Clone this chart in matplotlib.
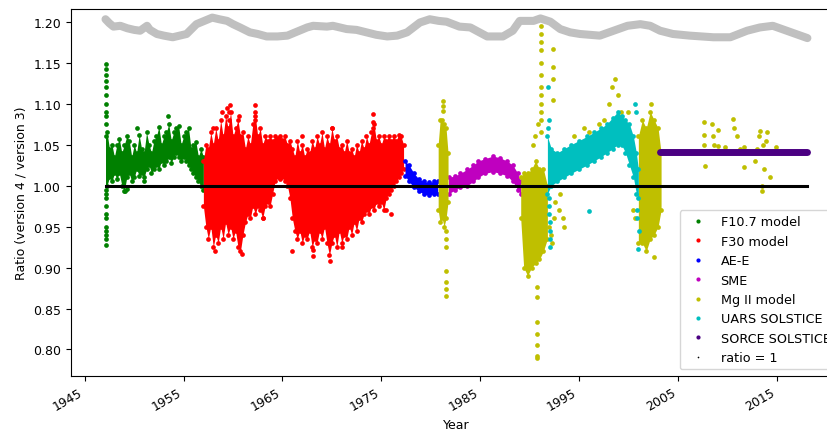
import matplotlib
matplotlib.use("Agg")
import matplotlib.pyplot as plt
from matplotlib.lines import Line2D

# ---------------- data ----------------
# F10.7 model: envelope of the dense cloud
f107_years = [1947.10, 1947.25, 1947.50, 1947.75, 1948.00, 1948.25, 1948.50, 1948.75,
              1949.00, 1949.25, 1949.50, 1949.75, 1950.00, 1950.25, 1950.50, 1950.75,
              1951.00, 1951.25, 1951.50, 1951.75, 1952.00, 1952.25, 1952.50, 1952.75,
              1953.00, 1953.25, 1953.50, 1953.75, 1954.00, 1954.25, 1954.50, 1954.75,
              1955.00, 1955.25, 1955.50, 1955.75, 1956.00, 1956.25, 1956.50, 1956.75,
              1957.00]
f107_high = [1.06, 1.065, 1.045, 1.05, 1.035, 1.05, 1.057, 1.04, 1.05, 1.06, 1.055, 1.035,
             1.05, 1.04, 1.062, 1.045, 1.04, 1.065, 1.05, 1.04, 1.055, 1.06, 1.072, 1.05,
             1.06, 1.065, 1.075, 1.055, 1.065, 1.07, 1.073, 1.05, 1.06, 1.065, 1.07,
             1.045, 1.05, 1.053, 1.035, 1.045, 1.035]
f107_low = [0.995, 1.0, 1.01, 1.005, 1.015, 1.008, 1.015, 1.0, 0.993, 1.01, 1.015, 1.005,
            1.01, 1.02, 1.012, 1.015, 1.01, 1.02, 1.025, 1.015, 1.02, 1.025, 1.02, 1.03,
            1.025, 1.03, 1.035, 1.028, 1.035, 1.04, 1.035, 1.03, 1.035, 1.03, 1.025,
            1.02, 1.015, 1.01, 1.005, 1.0, 0.995]
f107_pts_x = [1947.1] * 20 + [1953.4, 1949.1, 1949.3, 1951.0, 1950.3]
f107_pts_y = [1.148, 1.142, 1.135, 1.128, 1.12, 1.11, 1.10, 1.09, 1.085, 1.075,
              0.99, 0.985, 0.975, 0.965, 0.96, 0.95, 0.945, 0.94, 0.935, 0.928,
              1.085, 0.993, 0.996, 1.005, 1.07]

# F30 model
f30_years = [1957.00, 1957.25, 1957.50, 1957.75, 1958.00, 1958.25, 1958.50, 1958.75,
             1959.00, 1959.25, 1959.50, 1959.75, 1960.00, 1960.25, 1960.50, 1960.75,
             1961.00, 1961.25, 1961.50, 1961.75, 1962.00, 1962.25, 1962.50, 1962.75,
             1963.00, 1963.25, 1963.50, 1963.75, 1964.00, 1964.25, 1964.50, 1964.75,
             1965.00, 1965.25, 1965.50, 1965.75, 1966.00, 1966.25, 1966.50, 1966.75,
             1967.00, 1967.25, 1967.50, 1967.75, 1968.00, 1968.25, 1968.50, 1968.75,
             1969.00, 1969.25, 1969.50, 1969.75, 1970.00, 1970.25, 1970.50, 1970.75,
             1971.00, 1971.25, 1971.50, 1971.75, 1972.00, 1972.25, 1972.50, 1972.75,
             1973.00, 1973.25, 1973.50, 1973.75, 1974.00, 1974.25, 1974.50, 1974.75,
             1975.00, 1975.25, 1975.50, 1975.75, 1976.00, 1976.25, 1976.50, 1976.75,
             1977.00, 1977.25]
f30_high = [1.03, 1.05, 1.045, 1.065, 1.05, 1.07, 1.055, 1.08, 1.06, 1.085, 1.07, 1.09,
            1.06, 1.07, 1.08, 1.06, 1.065, 1.045, 1.06, 1.05, 1.075, 1.085, 1.06, 1.07,
            1.05, 1.06, 1.055, 1.06, 1.055, 1.06, 1.058, 1.06, 1.056, 1.06, 1.05, 1.055,
            1.045, 1.035, 1.055, 1.04, 1.05, 1.035, 1.045, 1.04, 1.055, 1.045, 1.06, 1.05,
            1.065, 1.045, 1.06, 1.05, 1.07, 1.055, 1.06, 1.045, 1.05, 1.04, 1.055, 1.04,
            1.045, 1.035, 1.05, 1.04, 1.055, 1.045, 1.06, 1.05, 1.065, 1.075, 1.055, 1.06,
            1.05, 1.06, 1.055, 1.06, 1.055, 1.06, 1.055, 1.062, 1.06, 1.05]
f30_low = [0.975, 0.95, 0.935, 0.95, 0.925, 0.94, 0.93, 0.95, 0.935, 0.955, 0.94, 0.95,
           0.935, 0.945, 0.925, 0.92, 0.94, 0.955, 0.965, 0.96, 0.975, 0.965, 0.975,
           0.97, 0.96, 0.975, 0.98, 0.975, 0.99, 1.005, 1.01, 1.008, 1.01, 1.005, 1.0,
           0.985, 0.96, 0.945, 0.935, 0.945, 0.93, 0.94, 0.935, 0.945, 0.925, 0.935,
           0.93, 0.945, 0.935, 0.95, 0.93, 0.915, 0.93, 0.94, 0.925, 0.945, 0.93, 0.94,
           0.935, 0.95, 0.94, 0.955, 0.945, 0.96, 0.955, 0.965, 0.97, 0.965, 0.975, 0.97,
           0.98, 0.975, 0.98, 0.97, 0.985, 0.99, 0.995, 1.0, 1.005, 1.01, 1.015, 1.02]
f30_pts_x = [1958.9, 1959.4, 1959.7, 1960.6, 1962.2, 1960.9, 1958.2, 1969.8, 1968.1,
             1974.2, 1976.0, 1975.5, 1966.0, 1967.0, 1970.0, 1971.0, 1958.0, 1963.0,
             1959.6, 1959.6, 1962.2, 1962.2, 1968.1, 1974.2, 1974.2]
f30_pts_y = [1.09, 1.095, 1.098, 1.085, 1.098, 0.917, 0.92, 0.908, 0.914,
             1.087, 0.965, 0.97, 0.92, 1.06, 1.07, 0.925, 1.07, 0.96,
             1.09, 1.08, 1.09, 1.08, 0.922, 1.078, 1.07]

# AE-E
aee_years = [1977.4, 1977.8, 1978.3, 1978.8, 1979.3, 1979.8, 1980.3, 1980.7]
aee_low = [1.012, 1.005, 0.998, 0.993, 0.99, 0.988, 0.99, 0.99]
aee_high = [1.03, 1.025, 1.015, 1.008, 1.005, 1.004, 1.005, 1.005]

# SME
sme_years = [1981.8, 1982.5, 1983.0, 1983.7, 1984.3, 1984.8, 1985.5, 1986.3, 1987.0,
             1987.7, 1988.3, 1988.8, 1989.1]
sme_low = [0.99, 0.995, 0.998, 1.0, 1.005, 1.01, 1.015, 1.017, 1.015, 1.012, 1.005,
           0.995, 0.99]
sme_high = [1.01, 1.012, 1.015, 1.02, 1.025, 1.03, 1.033, 1.036, 1.034, 1.03, 1.025,
            1.015, 1.005]

# Mg II model: dense blocks
mg1_years = [1980.75, 1980.95, 1981.15, 1981.35, 1981.55, 1981.75]
mg1_low = [0.97, 0.955, 0.96, 0.95, 0.96, 0.98]
mg1_high = [1.05, 1.08, 1.08, 1.075, 1.07, 1.04]
mg2_years = [1989.1, 1989.4, 1989.8, 1990.2, 1990.6, 1991.0, 1991.4, 1991.8]
mg2_low = [0.96, 0.9, 0.89, 0.9, 0.905, 0.91, 0.92, 0.935]
mg2_high = [1.01, 1.015, 1.015, 1.02, 1.03, 1.02, 1.02, 1.0]
mg3_years = [2001.0, 2001.4, 2001.8, 2002.2, 2002.6, 2003.0, 2003.3]
mg3_low = [0.93, 0.93, 0.92, 0.935, 0.94, 0.95, 0.97]
mg3_high = [1.06, 1.08, 1.07, 1.09, 1.08, 1.07, 1.04]
mg_pts_x = ([1981.2] * 3 + [1981.5] * 3 + [1981.55] * 4
            + [1991.2] * 12 + [1990.75] * 7 + [1992.4] * 4
            + [1990.3, 1990.5, 1990.8, 1992.0, 1992.2, 1992.3, 1992.5, 1992.6, 1993.0,
               1993.1, 1993.4, 1993.5, 1994.5, 1995.5, 1996.0, 1996.5, 1997.0, 1997.5,
               1998.0, 1998.3, 1998.6, 1998.9, 1999.2, 1999.5, 2000.0, 2000.3,
               2000.5, 2000.7, 2002.3, 2002.6]
            + [2007.6, 2007.6, 2007.6, 2007.7, 2008.5, 2008.6, 2008.7, 2009.1, 2009.1,
               2009.8, 2010.6, 2010.7, 2011.0, 2011.3, 2011.7, 2011.7, 2012.8, 2013.0,
               2013.2, 2013.3, 2013.5, 2013.7, 2013.9, 2014.0, 2014.1, 2014.3, 2013.5,
               2013.6, 2014.9])
mg_pts_y = ([1.103, 1.097, 1.091] + [0.945, 0.935, 0.925] + [0.896, 0.882, 0.874, 0.865]
            + [1.195, 1.185, 1.175, 1.165, 1.15, 1.135, 1.12, 1.11, 1.10, 1.09, 1.08, 1.065]
            + [0.876, 0.864, 0.834, 0.819, 0.805, 0.792, 0.789]
            + [1.167, 1.145, 1.13, 1.105]
            + [1.05, 1.06, 1.075, 0.95, 0.94, 0.93, 0.96, 0.98, 0.97,
               0.99, 0.96, 0.95, 1.06, 1.07, 1.065, 1.05, 1.075, 1.08,
               1.1, 1.12, 1.13, 1.11, 1.09, 1.075, 1.09, 1.06,
               0.97, 0.96, 1.1, 0.913]
            + [1.077, 1.062, 1.05, 1.024, 1.075, 1.06, 1.05, 1.068, 1.048,
               1.047, 1.081, 1.07, 1.06, 1.045, 1.047, 1.023, 1.03, 1.045,
               1.06, 1.067, 1.0, 1.02, 1.055, 1.065, 1.04, 1.01, 0.994,
               1.05, 1.047])

# UARS SOLSTICE
uars_years = [1991.8, 1992.2, 1992.8, 1993.5, 1994.2, 1995.0, 1995.8, 1996.5, 1997.2,
              1997.8, 1998.4, 1998.9, 1999.3, 1999.7, 2000.1, 2000.5, 2000.8, 2001.0]
uars_low = [0.99, 1.0, 1.005, 1.01, 1.015, 1.02, 1.025, 1.03, 1.035, 1.04, 1.045, 1.05,
            1.05, 1.04, 1.025, 1.01, 0.99, 0.985]
uars_high = [1.06, 1.045, 1.04, 1.045, 1.05, 1.055, 1.06, 1.065, 1.07, 1.075, 1.083,
             1.09, 1.085, 1.08, 1.075, 1.06, 1.04, 1.02]
uars_pts_x = [1992.0, 1992.0, 1992.0, 1992.05, 1992.05, 1992.1, 1992.1, 1991.9, 1991.9,
              1991.95, 2000.7, 2000.8, 2000.9, 2000.9, 2001.0, 2001.1, 1996.0]
uars_pts_y = [0.985, 0.975, 0.965, 0.955, 0.945, 0.935, 0.925, 1.12, 1.07,
              1.08, 1.1, 1.09, 0.97, 0.96, 0.923, 0.945, 0.969]

# SORCE SOLSTICE
sorce_years = [2003.2, 2004.0, 2005.0, 2006.0, 2007.0, 2008.0, 2009.0, 2010.0, 2011.0,
               2012.0, 2013.0, 2014.0, 2015.0, 2016.0, 2017.0, 2018.1]
sorce_vals = [1.041, 1.041, 1.041, 1.041, 1.041, 1.041, 1.041, 1.041, 1.041,
              1.041, 1.041, 1.041, 1.041, 1.041, 1.041, 1.041]

# ratio = 1 reference line
ratio_years = [1947.1, 2018.1]
ratio_vals = [1.0, 1.0]

# grey band at the top
grey_years = [1947.1, 1947.5, 1947.9, 1948.6, 1949.3, 1950.0, 1950.6, 1951.3, 1951.6,
              1952.3, 1953.0, 1953.9, 1955.3, 1956.3, 1957.1, 1957.9, 1958.6, 1959.4,
              1960.0, 1960.7, 1961.7, 1962.5, 1963.4, 1964.5, 1965.5, 1966.5, 1967.5,
              1968.1, 1969.5, 1970.1, 1971.5, 1972.5, 1973.5, 1974.5, 1975.6, 1976.6,
              1977.6, 1978.9, 1979.9, 1980.8, 1981.6, 1982.9, 1984.0, 1985.7, 1987.3,
              1988.3, 1989.0, 1990.4, 1991.1, 1992.1, 1993.1, 1994.1, 1995.1, 1997.1,
              1998.5, 1999.9, 2001.2, 2002.2, 2003.2, 2004.5, 2006.2, 2008.6, 2010.3,
              2012.0, 2013.3, 2014.6, 2016.0, 2017.4, 2018.1]
grey_vals = [1.203, 1.198, 1.194, 1.195, 1.192, 1.19, 1.189, 1.195, 1.19,
             1.185, 1.183, 1.181, 1.185, 1.197, 1.201, 1.205, 1.203, 1.201,
             1.197, 1.193, 1.187, 1.185, 1.182, 1.182, 1.183, 1.188, 1.193,
             1.195, 1.194, 1.195, 1.191, 1.19, 1.187, 1.184, 1.182, 1.183,
             1.187, 1.199, 1.203, 1.201, 1.2, 1.194, 1.193, 1.182, 1.182,
             1.189, 1.201, 1.201, 1.204, 1.2, 1.191, 1.187, 1.185, 1.183,
             1.189, 1.195, 1.197, 1.195, 1.189, 1.185, 1.183, 1.181, 1.181,
             1.189, 1.193, 1.195, 1.189, 1.183, 1.18]

x_ticks = [1945, 1955, 1965, 1975, 1985, 1995, 2005, 2015]
y_ticks = [0.80, 0.85, 0.90, 0.95, 1.00, 1.05, 1.10, 1.15, 1.20]

# ---------------- drawing ----------------
C_F107, C_F30, C_AEE, C_SME = "#008000", "#ff0000", "#0000ff", "#bf00bf"
C_MG, C_UARS, C_SORCE, C_GREY = "#bfbf00", "#00bfbf", "#4b0082", "#c0c0c0"
MS = 3.4

fig = plt.figure(figsize=(8.28, 4.31), dpi=100)
ax = fig.add_axes([0.0854, 0.126, 0.9315, 0.8508])


def cloud(xs, lo, hi, color):
    ax.fill_between(xs, lo, hi, color=color, lw=0, zorder=2)
    ax.plot(xs, lo, "o", ms=MS, mew=0, color=color, zorder=2)
    ax.plot(xs, hi, "o", ms=MS, mew=0, color=color, zorder=2)


def dots(xs, ys, color):
    ax.plot(xs, ys, "o", ms=MS, mew=0, color=color, zorder=2)


ax.plot(grey_years, grey_vals, "-", lw=5.8, color=C_GREY, solid_capstyle="round",
        solid_joinstyle="round", zorder=2)

cloud(f107_years, f107_low, f107_high, C_F107)
dots(f107_pts_x, f107_pts_y, C_F107)
cloud(f30_years, f30_low, f30_high, C_F30)
dots(f30_pts_x, f30_pts_y, C_F30)
cloud(aee_years, aee_low, aee_high, C_AEE)
cloud(sme_years, sme_low, sme_high, C_SME)
cloud(mg1_years, mg1_low, mg1_high, C_MG)
cloud(mg2_years, mg2_low, mg2_high, C_MG)
cloud(mg3_years, mg3_low, mg3_high, C_MG)
dots(mg_pts_x, mg_pts_y, C_MG)
cloud(uars_years, uars_low, uars_high, C_UARS)
dots(uars_pts_x, uars_pts_y, C_UARS)
ax.plot(sorce_years, sorce_vals, "-", lw=5, color=C_SORCE, solid_capstyle="round", zorder=3)
ax.plot(ratio_years, ratio_vals, "-", lw=2.2, color="k", zorder=4)

ax.set_xlim(1943.58, 2021.6)
ax.set_ylim(0.768, 1.2155)
ax.set_xticks(x_ticks)
ax.set_xticklabels([str(t) for t in x_ticks], rotation=30, ha="right", fontsize=9)
ax.set_yticks(y_ticks)
ax.set_yticklabels([f"{t:.2f}" for t in y_ticks], fontsize=9)
ax.set_xlabel("Year", fontsize=9)
ax.set_ylabel("Ratio (version 4 / version 3)", fontsize=9)

labels = ["F10.7 model", "F30 model", "AE-E", "SME", "Mg II model", "UARS SOLSTICE",
          "SORCE SOLSTICE", "ratio = 1"]
colors = [C_F107, C_F30, C_AEE, C_SME, C_MG, C_UARS, C_SORCE, "k"]
handles = [Line2D([], [], ls="", marker="o", ms=3, mew=0, color=c) for c in colors[:-1]]
handles.append(Line2D([], [], ls="", marker="o", ms=1.2, mew=0, color="k"))
ax.legend(handles, labels, loc="lower right", fontsize=9.2, labelspacing=0.5,
          framealpha=0.8)

fig.savefig("out.png", dpi=100)
